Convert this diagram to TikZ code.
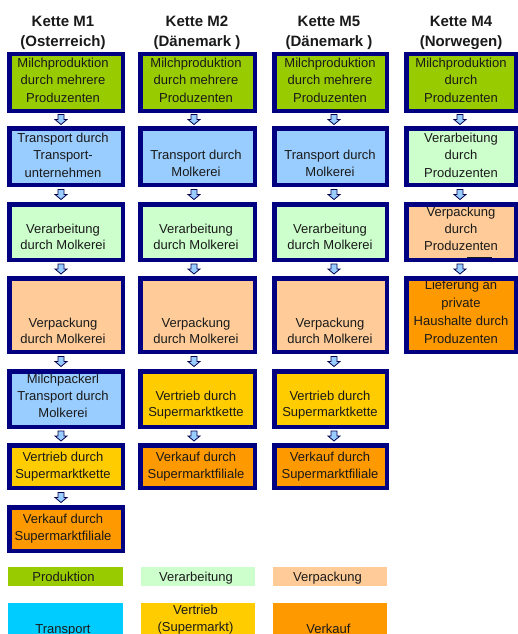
\documentclass[tikz,border=0pt]{standalone}
\usepackage{fontspec}
\setmainfont{Liberation Sans}
\usetikzlibrary{calc}
\definecolor{navy}{HTML}{000080}
\definecolor{cprod}{HTML}{99CC00}
\definecolor{cverarb}{HTML}{CCFFCC}
\definecolor{cverp}{HTML}{FFCC99}
\definecolor{ctrans}{HTML}{99CCFF}
\definecolor{ctransleg}{HTML}{00CCFF}
\definecolor{cvertr}{HTML}{FFCC00}
\definecolor{cverk}{HTML}{FF9900}
\definecolor{arrowblue}{HTML}{99CCFF}
\definecolor{textc}{HTML}{1A1A1A}
\newcommand\kbox[6]{%
  \node[kbox, fill=#6, minimum width={#4-#2-4.5}, minimum height={#5-#3-4.5}] (#1) at ({(#2+#4)/2},{(#3+#5)/2}) {};}
\newcommand\lbox[6]{%
  \node[kbox, fill=#6, minimum width={#4-#2}, minimum height={#5-#3}] (#1) at ({(#2+#4)/2},{(#3+#5)/2}) {};}
\begin{document}
\begin{tikzpicture}[x=1pt,y=-1pt,
  kbox/.style={rectangle, inner sep=0pt, outer sep=0pt},
  kborder/.style={draw=navy, line width=4.5pt},
  % anchor=base refers to the baseline of the LAST line
  txt/.style={anchor=base, align=center, inner sep=0pt, text=textc, font=\fontsize{13}{#1}\selectfont},
  txt/.default=17,
  hdr/.style={anchor=base, align=center, inner sep=0pt, text=textc, font=\bfseries\fontsize{15}{20.5}\selectfont},
  artline/.style={draw=textc, line width=1.3pt},
  darrow/.pic={\draw[fill=arrowblue, draw=navy!60!black, line width=0.8pt, line join=miter]
      (-3,-5) -- (3,-5) -- (3,0) -- (6,0) -- (0,5) -- (-6,0) -- (-3,0) -- cycle;}
]
\useasboundingbox (0,0) rectangle (518,634);
\clip (0,0) rectangle (518,634);

% headers
\node[hdr] (h1) at (63,46.5) {Kette M1\\(Osterreich)};
\node[hdr] (h2) at (197,46.5) {Kette M2\\(Dänemark )};
\node[hdr] (h3) at (329,46.5) {Kette M5\\(Dänemark )};
\node[hdr] (h4) at (461,46.5) {Kette M4\\(Norwegen)};

% column 1
\kbox{m1a}{7}{52}{125}{113}{cprod}
\kbox{m1b}{7}{126}{125}{187}{ctrans}
\kbox{m1c}{7}{202}{125}{262}{cverarb}
\kbox{m1d}{7}{276}{125}{354}{cverp}
\kbox{m1e}{7}{369}{125}{429}{ctrans}
\kbox{m1f}{7}{443}{125}{490}{cvertr}
\kbox{m1g}{7}{505}{125}{553}{cverk}
% column 2
\kbox{m2a}{138}{52}{257}{113}{cprod}
\kbox{m2b}{138}{126}{257}{187}{ctrans}
\kbox{m2c}{138}{202}{257}{262}{cverarb}
\kbox{m2d}{138}{276}{257}{354}{cverp}
\kbox{m2e}{138}{369}{257}{429}{cvertr}
\kbox{m2f}{138}{443}{257}{490}{cverk}
% column 3
\kbox{m5a}{272}{52}{389}{113}{cprod}
\kbox{m5b}{272}{126}{389}{187}{ctrans}
\kbox{m5c}{272}{202}{389}{262}{cverarb}
\kbox{m5d}{272}{276}{389}{354}{cverp}
\kbox{m5e}{272}{369}{389}{429}{cvertr}
\kbox{m5f}{272}{443}{389}{490}{cverk}
% column 4
\kbox{m4a}{404}{52}{518}{113}{cprod}
\kbox{m4b}{404}{126}{518}{187}{cverarb}
\kbox{m4c}{404}{202}{518}{262}{cverp}
\kbox{m4d}{404}{276}{518}{354}{cverk}

% texts column 1
\node[txt=17.5] (t1a) at (63,102) {Milchproduktion\\durch mehrere\\Produzenten};
\node[txt=17.5] (t1b) at (63,177) {Transport durch\\Transport-\\unternehmen};
\node[txt=16] (t1c) at (63,249) {Verarbeitung\\durch Molkerei};
\node[txt=16] (t1d) at (63,343) {Verpackung\\durch Molkerei};
\node[txt=17] (t1e) at (63,417) {Milchpackerl\\Transport durch\\Molkerei};
\node[txt=16.7] (t1f) at (63,478.5) {Vertrieb durch\\Supermarktkette};
\node[txt=16.7] (t1g) at (63,540) {Verkauf durch\\Supermarktfiliale};
% texts column 2
\node[txt=17.5] (t2a) at (196,102) {Milchproduktion\\durch mehrere\\Produzenten};
\node[txt=17.4] (t2b) at (196,176.7) {Transport durch\\Molkerei};
\node[txt=16] (t2c) at (196,249) {Verarbeitung\\durch Molkerei};
\node[txt=16] (t2d) at (196,343) {Verpackung\\durch Molkerei};
\node[txt=16.7] (t2e) at (196,416.7) {Vertrieb durch\\Supermarktkette};
\node[txt=16.7] (t2f) at (196,478.5) {Verkauf durch\\Supermarktfiliale};
% texts column 3
\node[txt=17.5] (t5a) at (330,102) {Milchproduktion\\durch mehrere\\Produzenten};
\node[txt=17.4] (t5b) at (330,176.7) {Transport durch\\Molkerei};
\node[txt=16] (t5c) at (330,249) {Verarbeitung\\durch Molkerei};
\node[txt=16] (t5d) at (330,343) {Verpackung\\durch Molkerei};
\node[txt=16.7] (t5e) at (330,416.7) {Vertrieb durch\\Supermarktkette};
\node[txt=16.7] (t5f) at (330,478.5) {Verkauf durch\\Supermarktfiliale};
% texts column 4
\node[txt=17.5] (t4a) at (461,102) {Milchproduktion\\durch\\Produzenten};
\node[txt=17.5] (t4b) at (461,177) {Verarbeitung\\durch\\Produzenten};
\node[txt=16.7] (t4c) at (461,250) {Verpackung\\durch\\Produzenten};
\node[txt=17.8] (t4d) at (461,343) {Lieferung an\\private\\Haushalte durch\\Produzenten};

% borders on top
\foreach \n in {m1a,m1b,m1c,m1d,m1e,m1f,m1g,m2a,m2b,m2c,m2d,m2e,m2f,m5a,m5b,m5c,m5d,m5e,m5f,m4a,m4b,m4c,m4d}
  \draw[kborder] (\n.north west) rectangle (\n.south east);

% small dark marks under text
\draw[artline] (69,109.5) -- (93,109.5);
\draw[artline] (210,109.5) -- (228,109.5);
\draw[artline] (333,109.5) -- (359,109.5);
\draw[artline] (467,109.5) -- (492,109.5);
\draw[artline] (467,257.5) -- (492,257.5);

% block arrows
\pic at ($(m1a.south)!.5!(m1b.north)+(-5,0)$) {darrow};
\pic at ($(m1b.south)!.5!(m1c.north)+(-5,0)$) {darrow};
\pic at ($(m1c.south)!.5!(m1d.north)+(-5,0)$) {darrow};
\pic at ($(m1d.south)!.5!(m1e.north)+(-5,0)$) {darrow};
\pic at ($(m1e.south)!.5!(m1f.north)+(-5,0)$) {darrow};
\pic at ($(m1f.south)!.5!(m1g.north)+(-5,0)$) {darrow};
\pic at ($(m2a.south)!.5!(m2b.north)+(-3.5,0)$) {darrow};
\pic at ($(m2b.south)!.5!(m2c.north)+(-3.5,0)$) {darrow};
\pic at ($(m2c.south)!.5!(m2d.north)+(-3.5,0)$) {darrow};
\pic at ($(m2d.south)!.5!(m2e.north)+(-3.5,0)$) {darrow};
\pic at ($(m2e.south)!.5!(m2f.north)+(-3.5,0)$) {darrow};
\pic at ($(m5a.south)!.5!(m5b.north)+(3.5,0)$) {darrow};
\pic at ($(m5b.south)!.5!(m5c.north)+(3.5,0)$) {darrow};
\pic at ($(m5c.south)!.5!(m5d.north)+(3.5,0)$) {darrow};
\pic at ($(m5d.south)!.5!(m5e.north)+(3.5,0)$) {darrow};
\pic at ($(m5e.south)!.5!(m5f.north)+(3.5,0)$) {darrow};
\pic at ($(m4a.south)!.5!(m4b.north)+(-1,0)$) {darrow};
\pic at ($(m4b.south)!.5!(m4c.north)+(-1,0)$) {darrow};
\pic at ($(m4c.south)!.5!(m4d.north)+(-1,0)$) {darrow};

% legend
\lbox{lprod}{8}{567}{123}{586}{cprod}
\lbox{lverarb}{141}{567}{255}{586}{cverarb}
\lbox{lverp}{273}{567}{387}{586}{cverp}
\lbox{ltrans}{8}{603}{123}{640}{ctransleg}
\lbox{lvertr}{141}{603}{255}{640}{cvertr}
\lbox{lverk}{273}{603}{387}{640}{cverk}
\node[txt] (ltp) at (63.5,581) {Produktion};
\node[txt] (ltv) at (196,581) {Verarbeitung};
\node[txt] (ltvp) at (327.5,581) {Verpackung};
\node[txt] (ltt) at (63,633) {Transport};
\node[txt=17] (ltvt) at (195.5,631) {Vertrieb\\(Supermarkt)};
\node[txt] (ltvk) at (328.5,633) {Verkauf};
\end{tikzpicture}
\end{document}
